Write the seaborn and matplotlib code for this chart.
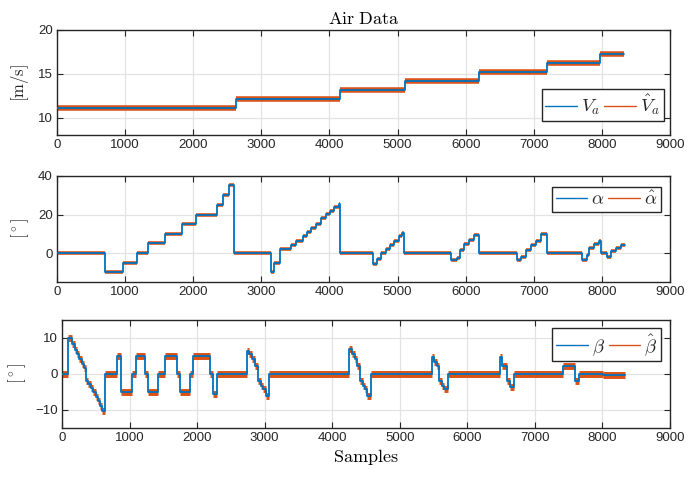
import numpy as np
import pandas as pd
import matplotlib
matplotlib.use("Agg")
import matplotlib.pyplot as plt
import seaborn as sns
from matplotlib.lines import Line2D

# ---------------- data (piecewise-constant segments) ----
x_ticks = [0, 1000, 2000, 3000, 4000, 5000, 6000, 7000, 8000, 9000]

va_start = [0, 2635, 4150, 5103, 6202, 7195, 7977]
va_level = [11.05, 12.1, 13.15, 14.15, 15.2, 16.2, 17.3]
va_end = 8330

alpha_start = [0, 704, 963, 1168, 1339, 1584, 1828, 2048, 2351, 2439, 2522,
               2595, 3138, 3182, 3280, 3441, 3514, 3612, 3670, 3734, 3798,
               3881, 3944, 4003, 4066, 4135, 4150, 4638, 4697, 4761, 4824,
               4883, 4941, 5019, 5068, 5093, 5787, 5870, 5919, 5982, 6046,
               6119, 6202, 6750, 6814, 6887, 6961, 7034, 7107, 7195, 7708,
               7776, 7815, 7889, 7952, 7986, 8069, 8133, 8207, 8280]
alpha_level = [0, -10, -5, 0, 5, 10, 15, 20, 25, 30, 35.5,
               0, -10, -5, 2.2, 4.3, 6.4, 8.7, 10.8, 13, 15,
               18, 20.3, 22, 23.8, 25.5, 0, -5.7, -3.1, 0, 2.1,
               4.3, 6.4, 8.7, 10.4, 0, -3.8, -2.3, 1.7, 4.7, 6.9,
               9.5, 0, -3.8, -1.8, 1.7, 4.3, 6.4, 9.9, 0, -3.8,
               -0.9, 2.6, 4.7, 6.4, 0, -1.8, 1.2, 2.6, 4.3]
alpha_end = 8340

beta_start = [0, 94, 143, 192, 227, 257, 291, 326, 355, 390, 424, 464, 498,
              528, 562, 597, 636, 809, 868, 1041, 1090, 1229, 1278, 1416,
              1525, 1697, 1747, 1895, 1944, 2191, 2240, 2289, 2733, 2768,
              2807, 2857, 2906, 2945, 2980, 3014, 3064, 4248, 4288, 4337,
              4371, 4411, 4450, 4485, 4520, 4574, 5472, 5507, 5546, 5586,
              5620, 5655, 5719, 6483, 6518, 6582, 6631, 6695, 7420, 7593,
              7652, 8008]
beta_level = [0, 10, 8.3, 6.8, 5.6, 4.2, 2.8, 1.6, -1.9, -2.8, -4.0, -5.1, -6.5,
              -7.6, -8.8, -10.2, 0, 5.1, -5.1, 0, 5.1, 0, -5.1, 0,
              5.1, 0, -5.1, 0, 5.1, 0, -5.5, 0, 6.5, 5.6,
              4.2, 2.3, -1.9, -3.2, -4.2, -6.0, 0, 6.9, 5.6, 4.2,
              2.3, -1.9, -3.2, -4.2, -6.2, 0, 4.6, 3.2, 2.3, -1.9,
              -3.2, -4.2, 0, 4.6, 2.3, -1.9, -3.7, 0, 2.1, -1.9,
              0, -0.3]
beta_end = 8334


def steps(start, level, end):
    return pd.DataFrame({"Samples": list(start) + [end],
                         "value": list(level) + [level[-1]]})


BLUE = "#0072BD"
ORANGE = "#D95319"
DARK = "#262626"

sns.set_style("ticks")
plt.rcParams["font.family"] = ["Liberation Sans", "DejaVu Sans"]
plt.rcParams["mathtext.fontset"] = "cm"

fig = plt.figure(figsize=(6.92, 4.8), dpi=100)
W, H = 692.0, 480.0
ax1 = fig.add_axes([57 / W, 1 - 135 / H, 613 / W, 105 / H])
ax2 = fig.add_axes([57 / W, 1 - 282 / H, 613 / W, 106 / H])
ax3 = fig.add_axes([62 / W, 1 - 428 / H, 608 / W, 108 / H])

panels = [
    (ax1, va_start, va_level, va_end, 4.0, (8, 20), [10, 15, 20],
     r"$[\mathrm{m/s}]$", [r"$V_a$", r"$\hat{V}_a$"], "lower right", (0.990, 0.133)),
    (ax2, alpha_start, alpha_level, alpha_end, 2.6, (-15, 40), [0, 20, 40],
     r"$[^\circ]$", [r"$\alpha$", r"$\hat{\alpha}$"], "upper right", (0.9853, 0.896)),
    (ax3, beta_start, beta_level, beta_end, 5.0, (-15, 15), [-10, 0, 10],
     r"$[^\circ]$", [r"$\beta$", r"$\hat{\beta}$"], "upper right", (0.985, 0.926)),
]

for ax, st, lv, en, olw, ylim, yt, ylab, labs, loc, anchor in panels:
    df = steps(st, lv, en)
    # estimate: band along each constant segment
    ax.hlines(lv, st, list(st[1:]) + [en], color=ORANGE, linewidth=olw,
              zorder=2)
    # true value: staircase
    sns.lineplot(data=df, x="Samples", y="value", ax=ax, color=BLUE,
                 linewidth=1.3, drawstyle="steps-post", estimator=None,
                 sort=False, legend=False, zorder=3)
    ax.set_xlim(0, 9000)
    ax.set_ylim(*ylim)
    ax.set_xticks(x_ticks)
    ax.set_yticks(yt)
    ax.set_xlabel("")
    ax.set_ylabel(ylab, fontsize=12, color=DARK, labelpad=5)
    ax.grid(True, color="#e3e3e3", linewidth=0.9)
    ax.set_axisbelow(True)
    ax.tick_params(direction="in", top=True, right=True, length=4, width=0.8,
                   labelsize=9.5, colors=DARK, pad=3)
    for sp in ax.spines.values():
        sp.set_visible(True)
        sp.set_color(DARK)
        sp.set_linewidth(1.0)
    handles = [Line2D([], [], color=BLUE, linewidth=1.0),
               Line2D([], [], color=ORANGE, linewidth=1.0)]
    leg = ax.legend(handles=handles, labels=labs, ncol=2, loc=loc,
                    bbox_to_anchor=anchor, borderaxespad=0, fontsize=13.5,
                    frameon=True, fancybox=False, framealpha=1,
                    edgecolor=DARK, handlelength=1.7, handletextpad=0.2,
                    columnspacing=0.2, borderpad=0.2)
    leg.get_frame().set_linewidth(1.0)

ax1.set_title(r"$\mathrm{Air\ Data}$", fontsize=13, color="black", pad=4)
ax3.set_xlabel(r"$\mathrm{Samples}$", fontsize=13, color="black", labelpad=2)

fig.savefig("out.png", dpi=100)
